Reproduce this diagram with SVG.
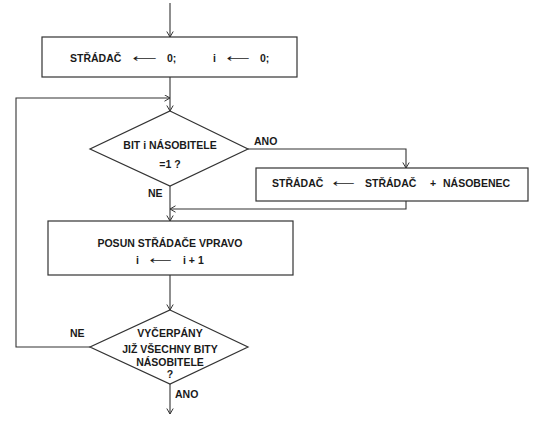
<svg xmlns="http://www.w3.org/2000/svg" width="540" height="423" viewBox="0 0 540 423">
<defs>
<marker id="ah" markerUnits="userSpaceOnUse" markerWidth="8" markerHeight="8" refX="6" refY="3.5" orient="auto">
<path d="M0.5,0.3 L6,3.5 L0.5,6.7" fill="none" stroke="#333" stroke-width="1"/>
</marker>
<style>
.shape{fill:#fff;stroke:#333;stroke-width:1.2}
.conn{fill:none;stroke:#333;stroke-width:1.1;marker-end:url(#ah)}
.t{font-family:"Liberation Sans",Arial,sans-serif;font-weight:bold;font-size:10.5px;fill:#1a1a1a}
.c{text-anchor:middle}
.arr{font-family:"DejaVu Sans",sans-serif;font-size:10.5px;fill:#1a1a1a}
</style>
</defs>
<rect width="540" height="423" fill="#fff"/>
<g id="connectors">
<path class="conn" d="M170,3 V37"/>
<path class="conn" d="M170,77 V111"/>
<path class="conn" d="M248,149 H406 V168"/>
<path class="conn" d="M406,201 V209 H170"/>
<path class="conn" d="M170,186 V221"/>
<path class="conn" d="M170,275 V310"/>
<path class="conn" d="M90,347 H16 V98 H170"/>
<path class="conn" d="M170,384 V414"/>
</g>
<g id="init">
<rect class="shape" x="42" y="37" width="255" height="40"/>
<text class="t" x="70" y="62">STŘÁDAČ</text>
<text class="arr" x="133" y="62" textLength="24" lengthAdjust="spacingAndGlyphs">⟵</text>
<text class="t" x="167" y="62">0;</text>
<text class="t" x="213" y="62">i</text>
<text class="arr" x="227" y="62" textLength="23" lengthAdjust="spacingAndGlyphs">⟵</text>
<text class="t" x="260" y="62">0;</text>
</g>
<g id="test-bit">
<polygon class="shape" points="170,111 248,149 170,186 90,149"/>
<text class="t c" x="170" y="149">BIT i NÁSOBITELE</text>
<text class="t c" x="170" y="168">=1 ?</text>
</g>
<g id="label-ano1"><text class="t" x="254" y="145">ANO</text></g>
<g id="label-ne1"><text class="t" x="148" y="197">NE</text></g>
<g id="add">
<rect class="shape" x="256" y="168" width="272" height="33"/>
<text class="t" x="272" y="187">STŘÁDAČ</text>
<text class="arr" x="333" y="187" textLength="22" lengthAdjust="spacingAndGlyphs">⟵</text>
<text class="t" x="365" y="187">STŘÁDAČ</text>
<text class="t" x="430" y="187">+</text>
<text class="t" x="443" y="187">NÁSOBENEC</text>
</g>
<g id="shift">
<rect class="shape" x="48" y="221" width="245" height="54"/>
<text class="t c" x="170" y="247">POSUN STŘÁDAČE VPRAVO</text>
<text class="t" x="136" y="264">i</text>
<text class="arr" x="150" y="264" textLength="22" lengthAdjust="spacingAndGlyphs">⟵</text>
<text class="t" x="183" y="264">i + 1</text>
</g>
<g id="test-end">
<polygon class="shape" points="170,310 248,347 170,384 90,347"/>
<text class="t c" x="170" y="337">VYČERPÁNY</text>
<text class="t c" x="170" y="353">JIŽ VŠECHNY BITY</text>
<text class="t c" x="170" y="365.5">NÁSOBITELE</text>
<text class="t c" x="170" y="377.5">?</text>
</g>
<g id="label-ne2"><text class="t" x="70" y="337">NE</text></g>
<g id="label-ano2"><text class="t" x="175" y="398">ANO</text></g>
</svg>
